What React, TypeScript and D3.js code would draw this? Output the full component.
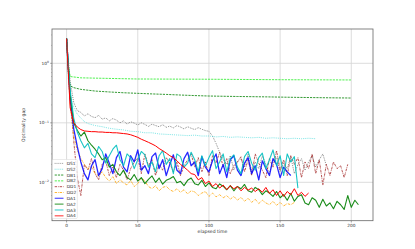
import React from 'react';
import * as d3 from 'd3';

// noisy runs are logged every STEP units of elapsed time
const STEP = 2.5;

const ds1 = [
  2.6, 0.5, 0.22, 0.16, 0.15, 0.13, 0.142, 0.128, 0.122, 0.133, 0.115, 0.121, 0.108, 0.118, 0.111, 0.1,
  0.108, 0.095, 0.104, 0.099, 0.092, 0.1, 0.094, 0.087, 0.095, 0.09, 0.086, 0.093, 0.084, 0.088, 0.082,
  0.09, 0.085, 0.079, 0.086, 0.081, 0.077, 0.083, 0.078, 0.074, 0.072, 0.06, 0.045, 0.032, 0.024, 0.02,
  0.028, 0.016, 0.022, 0.025, 0.018, 0.03, 0.015, 0.022, 0.017, 0.028, 0.02, 0.014, 0.024, 0.026, 0.015,
  0.021, 0.017, 0.027, 0.014, 0.02, 0.025, 0.016, 0.022, 0.028, 0.018, 0.024, 0.03, 0.019,
];

const ds2Time = [0, 1, 2.5, 5, 7.5, 10, 12.5, 15, 20, 25, 30, 35, 40, 45, 50, 55, 60, 65, 70, 75, 80, 85, 90,
  95, 100, 105, 110, 115, 120, 125, 130, 135, 140, 145, 150, 155, 160, 165, 170, 175];
const ds2 = [2.6, 0.6, 0.3, 0.18, 0.14, 0.12, 0.105, 0.097, 0.09, 0.086, 0.081, 0.078, 0.076, 0.072,
  0.071, 0.068, 0.068, 0.065, 0.064, 0.063, 0.062, 0.061, 0.062, 0.06, 0.06, 0.058, 0.059, 0.057, 0.058,
  0.057, 0.056, 0.057, 0.055, 0.056, 0.055, 0.054, 0.055, 0.054, 0.055, 0.054];

const db1Time = [0, 1, 2.5, 5, 10, 20, 30, 40, 50, 60, 70, 80, 90, 100, 120, 140, 160, 180, 200];
const db1 = [2.6, 0.8, 0.42, 0.39, 0.365, 0.342, 0.33, 0.32, 0.313, 0.306, 0.3, 0.293, 0.287, 0.282,
  0.277, 0.273, 0.268, 0.264, 0.261];

const db2Time = [0, 1, 2.5, 10, 50, 100, 150, 200];
const db2 = [2.6, 1.0, 0.6, 0.57, 0.545, 0.54, 0.53, 0.525];

const dd1 = [
  2.6, 0.3, 0.05, 0.012, 0.006, 0.02, 0.016, 0.025, 0.014, 0.011, 0.02, 0.023, 0.013, 0.018, 0.012, 0.02,
  0.016, 0.011, 0.017, 0.022, 0.026, 0.014, 0.03, 0.019, 0.024, 0.013, 0.02, 0.016, 0.026, 0.021, 0.015,
  0.022, 0.013, 0.019, 0.024, 0.03, 0.018, 0.026, 0.015, 0.022, 0.013, 0.028, 0.021, 0.032, 0.018, 0.025,
  0.014, 0.019, 0.022, 0.027, 0.015, 0.024, 0.013, 0.03, 0.021, 0.016, 0.012, 0.025, 0.018, 0.034, 0.016,
  0.024, 0.013, 0.028, 0.02, 0.026, 0.012, 0.022, 0.017, 0.03, 0.014, 0.024, 0.009, 0.02, 0.013, 0.022,
  0.017, 0.019, 0.012, 0.02,
];

const dd2 = [
  2.6, 0.2, 0.06, 0.035, 0.025, 0.02, 0.017, 0.018, 0.014, 0.013, 0.015, 0.012, 0.0105, 0.0125, 0.0095,
  0.011, 0.0098, 0.009, 0.0108, 0.0085, 0.0095, 0.012, 0.0105, 0.0085, 0.0078, 0.0088, 0.0072, 0.0082,
  0.0086, 0.0075, 0.007, 0.0078, 0.0068, 0.0075, 0.0064, 0.0072, 0.0069, 0.006, 0.0066, 0.007, 0.0058,
  0.0066, 0.0057, 0.0062, 0.0055, 0.006, 0.0052, 0.0058, 0.005, 0.0056, 0.0048, 0.0054, 0.0046, 0.0052,
  0.0044, 0.005, 0.0045, 0.0042, 0.0048, 0.0041, 0.0046, 0.004, 0.0044, 0.0042, 0.0046,
];

const da1 = [
  2.6, 0.25, 0.08, 0.04, 0.022, 0.014, 0.011, 0.019, 0.024, 0.013, 0.017, 0.03, 0.021, 0.014, 0.026,
  0.033, 0.018, 0.015, 0.028, 0.022, 0.035, 0.016, 0.019, 0.014, 0.027, 0.031, 0.017, 0.024, 0.013, 0.02,
  0.029, 0.016, 0.014, 0.025, 0.032, 0.019, 0.022, 0.013, 0.027, 0.018, 0.015, 0.023, 0.03, 0.014, 0.02,
  0.012, 0.024, 0.028, 0.016, 0.013, 0.021, 0.026, 0.014, 0.019, 0.011, 0.023, 0.017, 0.013, 0.025, 0.02,
  0.012, 0.018, 0.015, 0.013,
];

const da2 = [
  2.6, 0.3, 0.1, 0.075, 0.06, 0.07, 0.05, 0.042, 0.036, 0.03, 0.024, 0.026, 0.018, 0.02, 0.015, 0.013,
  0.016, 0.012, 0.011, 0.0135, 0.0105, 0.012, 0.0095, 0.0112, 0.0128, 0.01, 0.0118, 0.0093, 0.0108,
  0.0115, 0.0125, 0.0098, 0.0104, 0.0088, 0.0108, 0.0118, 0.0095, 0.009, 0.0108, 0.0085, 0.0098, 0.0082,
  0.0078, 0.0094, 0.0086, 0.0075, 0.0088, 0.0072, 0.0085, 0.0078, 0.0092, 0.0072, 0.0068, 0.0082, 0.0075,
  0.0062, 0.0072, 0.0066, 0.0058, 0.007, 0.0055, 0.0062, 0.005, 0.0065, 0.0048, 0.0058, 0.0062, 0.0045,
  0.0042, 0.0055, 0.005, 0.0038, 0.0052, 0.004, 0.0045, 0.0036, 0.0048, 0.0042, 0.0035, 0.006, 0.0038,
  0.005, 0.0042,
];

const da3 = [
  2.6, 0.35, 0.12, 0.07, 0.05, 0.038, 0.045, 0.03, 0.026, 0.04, 0.033, 0.021, 0.028, 0.036, 0.042, 0.024,
  0.019, 0.03, 0.026, 0.017, 0.024, 0.033, 0.029, 0.018, 0.022, 0.015, 0.028, 0.034, 0.02, 0.025, 0.014,
  0.03, 0.027, 0.018, 0.021, 0.032, 0.024, 0.015, 0.028, 0.019, 0.026, 0.034, 0.017, 0.022, 0.03, 0.015,
  0.025, 0.029, 0.018, 0.014, 0.027, 0.033, 0.021, 0.016, 0.026, 0.031, 0.017, 0.024, 0.035, 0.019, 0.028,
  0.013, 0.03, 0.022, 0.027, 0.008,
];

const da4 = [
  2.6, 0.18, 0.1, 0.085, 0.077, 0.073, 0.072, 0.071, 0.071, 0.07, 0.07, 0.069, 0.069, 0.068, 0.068, 0.067,
  0.066, 0.065, 0.063, 0.06, 0.057, 0.053, 0.05, 0.047, 0.044, 0.041, 0.037, 0.034, 0.031, 0.028, 0.026,
  0.023, 0.02, 0.018, 0.016, 0.014, 0.0135, 0.011, 0.012, 0.0095, 0.0105, 0.0085, 0.0095, 0.008, 0.009,
  0.0075, 0.0088, 0.0078, 0.0085, 0.0072, 0.0082, 0.0074, 0.008, 0.007, 0.0078, 0.0068, 0.0082, 0.0065,
  0.0075, 0.006, 0.0072, 0.0058, 0.007, 0.0062, 0.0078, 0.006, 0.0068, 0.0058, 0.0066,
];

const xTicks = [0, 50, 100, 150, 200];
const yTicks = [1, 0.1, 0.01];
const yTickLabels = [['10', '0'], ['10', '−1'], ['10', '−2']];

const stepped = (vals: number[]) => vals.map((v, i) => [i * STEP, v] as [number, number]);
const paired = (t: number[], vals: number[]) => vals.map((v, i) => [t[i], v] as [number, number]);

const series = [
  { name: 'DS1', pts: stepped(ds1), color: '#666', dash: '0.8,1.1', w: 0.9, op: 1 },
  { name: 'DS2', pts: paired(ds2Time, ds2), color: '#40d8d8', dash: '0.8,1.1', w: 0.8, op: 1 },
  { name: 'DB1', pts: paired(db1Time, db1), color: 'green', dash: '2.2,1', w: 0.8, op: 1 },
  { name: 'DB2', pts: paired(db2Time, db2), color: '#22ee22', dash: '2.2,1', w: 0.8, op: 1 },
  { name: 'DD1', pts: stepped(dd1), color: 'brown', dash: '2.4,0.9,0.7,0.9', w: 0.8, op: 1 },
  { name: 'DD2', pts: stepped(dd2), color: 'orange', dash: '2.4,0.9,0.7,0.9', w: 0.8, op: 1 },
  { name: 'DA1', pts: stepped(da1), color: 'blue', dash: null, w: 1.3, op: 0.85 },
  { name: 'DA2', pts: stepped(da2), color: 'green', dash: null, w: 1.1, op: 0.9 },
  { name: 'DA3', pts: stepped(da3), color: '#00bfbf', dash: null, w: 1.1, op: 0.9 },
  { name: 'DA4', pts: stepped(da4), color: 'red', dash: null, w: 1.0, op: 1 },
];

const W = 415, H = 249;
const box = { left: 52, right: 373, top: 29, bottom: 220.7 };

export default function App() {
  const x = d3.scaleLinear().domain([-10.25, 215.25]).range([box.left, box.right]);
  const y = d3.scaleLog().domain([0.002264, 3.773]).range([box.bottom, box.top]);
  const line = d3.line<[number, number]>().x((d) => x(d[0])).y((d) => y(d[1]));

  // minor log ticks inside the y domain
  const minor: number[] = [];
  for (let k = -3; k <= 0; k++) {
    for (let m = 2; m <= 9; m++) {
      const v = m * Math.pow(10, k);
      if (v > 0.002264 && v < 3.773) minor.push(v);
    }
  }

  const font = 'DejaVu Sans, sans-serif';
  const legX = 52.5, legY = 159.5, rowH = 5.82;

  return (
    <svg width={W} height={H} style={{ position: 'absolute', left: 0, top: 0, background: '#fff' }}>
      <defs>
        <clipPath id="plot">
          <rect x={box.left} y={box.top} width={box.right - box.left} height={box.bottom - box.top} />
        </clipPath>
      </defs>
      {/* grid */}
      {xTicks.map((t) => (
        <line key={'gx' + t} x1={x(t)} x2={x(t)} y1={box.top} y2={box.bottom} stroke="#d4d4d4" strokeWidth={0.8} />
      ))}
      {yTicks.map((t) => (
        <line key={'gy' + t} x1={box.left} x2={box.right} y1={y(t)} y2={y(t)} stroke="#d4d4d4" strokeWidth={0.8} />
      ))}
      {/* data */}
      <g clipPath="url(#plot)">
        {series.map((s) => (
          <path key={s.name} d={line(s.pts) || ''} fill="none" stroke={s.color} strokeWidth={s.w}
            strokeOpacity={s.op} strokeDasharray={s.dash || undefined} strokeLinejoin="round" />
        ))}
      </g>
      {/* frame */}
      <rect x={box.left} y={box.top} width={box.right - box.left} height={box.bottom - box.top}
        fill="none" stroke="#666" strokeWidth={0.8} />
      {/* x axis */}
      {xTicks.map((t) => (
        <g key={'tx' + t}>
          <line x1={x(t)} x2={x(t)} y1={box.bottom} y2={box.bottom + 1.8} stroke="#666" strokeWidth={0.6} />
          <text x={x(t)} y={box.bottom + 6.5} fontSize={4.3} fontFamily={font} textAnchor="middle" fill="#333">{t}</text>
        </g>
      ))}
      <text x={(box.left + box.right) / 2} y={box.bottom + 12.5} fontSize={4.6} fontFamily={font}
        textAnchor="middle" fill="#333">elapsed time</text>
      {/* y axis */}
      {minor.map((v) => (
        <line key={'my' + v} x1={box.left - 1} x2={box.left} y1={y(v)} y2={y(v)} stroke="#777" strokeWidth={0.4} />
      ))}
      {yTicks.map((t, i) => (
        <g key={'ty' + t}>
          <line x1={box.left - 1.8} x2={box.left} y1={y(t)} y2={y(t)} stroke="#666" strokeWidth={0.6} />
          <text x={box.left - 3} y={y(t) + 1.6} fontSize={4.3} fontFamily={font} textAnchor="end" fill="#333">
            {yTickLabels[i][0]}
            <tspan fontSize={3} dy={-1.8}>{yTickLabels[i][1]}</tspan>
          </text>
        </g>
      ))}
      <text transform={`translate(24.5,${(box.top + box.bottom) / 2}) rotate(-90)`} fontSize={4.6}
        fontFamily={font} textAnchor="middle" fill="#333">Optimality gap</text>
      {/* legend */}
      <rect x={legX} y={legY} width={24.8} height={59} rx={1} fill="#fff" fillOpacity={0.85}
        stroke="#ddd" strokeWidth={0.6} />
      {series.map((s, i) => {
        const ry = legY + 3.9 + i * rowH;
        return (
          <g key={'lg' + s.name}>
            <line x1={legX + 2.2} x2={legX + 11} y1={ry} y2={ry} stroke={s.color}
              strokeWidth={s.dash ? 0.8 : 1.4} strokeOpacity={s.dash ? 1 : 0.6}
              strokeDasharray={s.dash || undefined} />
            <text x={legX + 14.3} y={ry + 1.6} fontSize={4.3} fontFamily={font} fill="#333">{s.name}</text>
          </g>
        );
      })}
    </svg>
  );
}
